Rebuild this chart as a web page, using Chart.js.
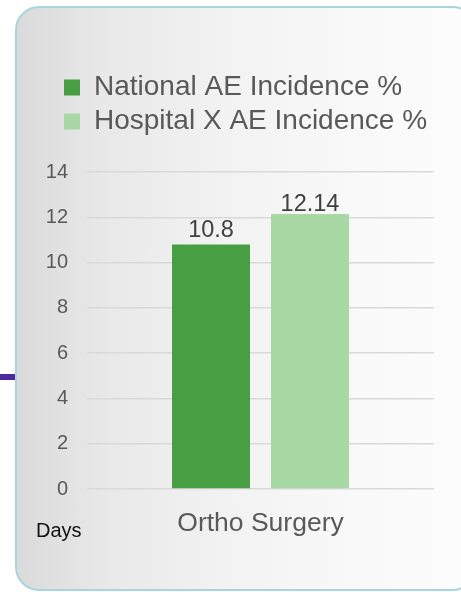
<!DOCTYPE html>
<html>
<head>
<meta charset="utf-8">
<script src="https://cdn.jsdelivr.net/npm/chart.js@4.4.1/dist/chart.umd.min.js"></script>
<style>
  html, body { margin: 0; padding: 0; width: 461px; height: 592px; overflow: hidden; background: #ffffff; }
  #card {
    position: absolute; left: 15px; top: 6px; width: 458px; height: 581px;
    border: 2.5px solid #a9d5e0; border-radius: 24px;
    background: linear-gradient(to right, #dadada 0%, #e9e9e9 20%, #f2f2f2 45%, #f8f8f8 70%, #fdfdfd 100%);
  }
  #accent { position: absolute; left: 0; top: 374px; width: 15px; height: 6px; background: #4c2a9f; }
  #days {
    position: absolute; left: 36px; top: 520px; font-family: "Liberation Sans", Arial, sans-serif;
    font-size: 20px; line-height: 20px; color: #111111;
  }
  #chart { position: absolute; left: 0; top: 0; }
</style>
</head>
<body>
<div id="card"></div>
<div id="accent"></div>
<canvas id="chart" width="461" height="592"></canvas>
<div id="days">Days</div>
<script>
// ---- data ----
const categories = ['Ortho Surgery'];
const seriesNames = ['National AE Incidence %', 'Hospital X AE Incidence %'];
const nationalValues = [10.8];
const hospitalValues = [12.14];
const yMin = 0;
const yMax = 14;
const yStep = 2;

// ---- styles ----
const FONT = '"Liberation Sans", Arial, sans-serif';
const seriesColors = ['#479e43', '#a8d8a3'];
const labelGaps = [7, 3];

const legendPlacement = {
  id: 'legendPlacement',
  beforeInit(chart) {
    const lg = chart.legend;
    if (lg && !lg._gapPatched) {
      const orig = lg.fit;
      lg.fit = function () { orig.call(this); this.height += 26.5; };
      lg._gapPatched = true;
    }
  },
  afterLayout(chart) {
    const lg = chart.legend;
    if (lg) { lg.left += 28; }
  }
};

const barValueLabels = {
  id: 'barValueLabels',
  afterDatasetsDraw(chart) {
    const ctx = chart.ctx;
    chart.data.datasets.forEach((ds, i) => {
      const meta = chart.getDatasetMeta(i);
      meta.data.forEach((bar, j) => {
        ctx.save();
        ctx.font = '23.5px ' + FONT;
        ctx.fillStyle = '#404040';
        ctx.textAlign = 'center';
        ctx.textBaseline = 'alphabetic';
        ctx.fillText(String(ds.data[j]), bar.x, bar.y - ds.labelGap);
        ctx.restore();
      });
    });
  }
};

Chart.defaults.font.family = FONT;

new Chart(document.getElementById('chart'), {
  type: 'bar',
  data: {
    labels: categories,
    datasets: [
      { label: seriesNames[0], data: nationalValues, backgroundColor: seriesColors[0], labelGap: labelGaps[0],
        categoryPercentage: 0.5706, barPercentage: 0.788 },
      { label: seriesNames[1], data: hospitalValues, backgroundColor: seriesColors[1], labelGap: labelGaps[1],
        categoryPercentage: 0.5706, barPercentage: 0.788 }
    ]
  },
  options: {
    responsive: false,
    animation: false,
    devicePixelRatio: 1,
    layout: { padding: { left: 30, right: 27, top: 67.5, bottom: 43 } },
    plugins: {
      legend: {
        position: 'top',
        align: 'start',
        labels: {
          boxWidth: 16, boxHeight: 16, padding: 6,
          color: '#595959',
          font: { size: 28, family: FONT }
        }
      },
      tooltip: { enabled: false }
    },
    scales: {
      x: {
        grid: { display: false },
        border: { display: false },
        ticks: { color: '#595959', font: { size: 26.5, family: FONT }, padding: 11 },
        afterFit(s) { s.height = 60; }
      },
      y: {
        min: yMin, max: yMax,
        grid: { color: '#d9d9d9', lineWidth: 1.5, drawTicks: false },
        border: { display: false },
        ticks: { stepSize: yStep, color: '#595959', font: { size: 20, family: FONT }, padding: 19 },
        afterFit(s) { s.width = 57; }
      }
    }
  },
  plugins: [legendPlacement, barValueLabels]
});
</script>
</body>
</html>
